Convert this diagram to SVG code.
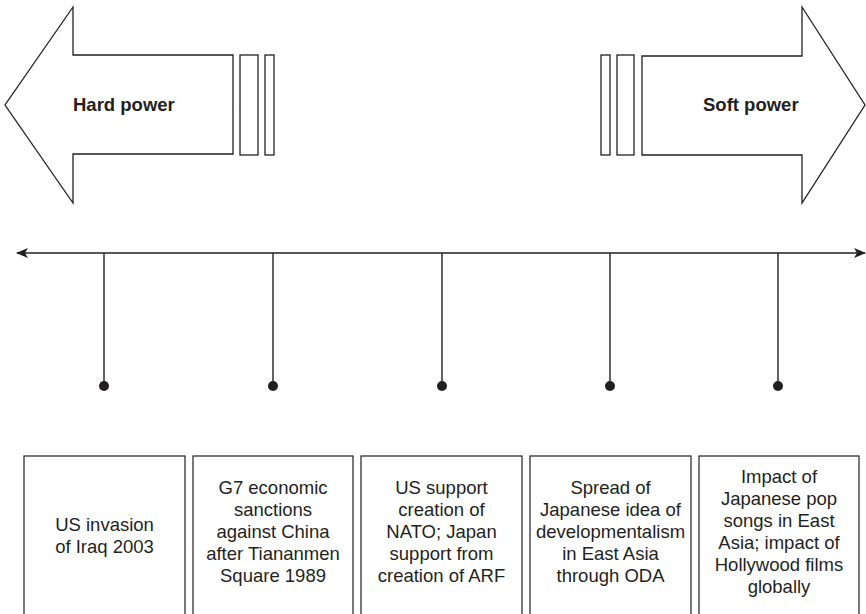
<svg xmlns="http://www.w3.org/2000/svg" width="866" height="614" viewBox="0 0 866 614">
<style>
.o{fill:#fff;stroke:#231f20;stroke-width:1.3}
.b{fill:#fff;stroke:#231f20;stroke-width:1.2}
.l{stroke:#231f20;stroke-width:1.4;fill:none}
.t{font-family:"Liberation Sans",Arial,sans-serif;font-size:18.5px;fill:#231f20;text-anchor:middle}
.h{font-family:"Liberation Sans",Arial,sans-serif;font-size:18.5px;font-weight:bold;fill:#231f20}
.d{fill:#231f20}
</style>
<defs>
<marker id="ah" viewBox="0 0 12 10" refX="11" refY="5" markerWidth="12" markerHeight="10" markerUnits="userSpaceOnUse" orient="auto-start-reverse">
<path d="M0,0 L12,5 L0,10 L3,5 Z" fill="#231f20"/>
</marker>
</defs>
<g id="hard-power">
<polygon class="o" points="73,7 5,105 73,203 73,154 233,154 233,55 73,55"/>
<rect class="o" x="240" y="55" width="18" height="100"/>
<rect class="o" x="265" y="55" width="9" height="100"/>
<text class="h" x="73" y="111">Hard power</text>
</g>
<g id="soft-power">
<polygon class="o" points="802,7 865,105 802,203 802,155 642,155 642,56 802,56"/>
<rect class="o" x="601" y="55" width="9" height="100"/>
<rect class="o" x="617" y="55" width="17" height="100"/>
<text class="h" x="703" y="111">Soft power</text>
</g>
<g id="connectors">
<line class="l" x1="17" y1="253" x2="865" y2="253" marker-start="url(#ah)" marker-end="url(#ah)"/>
<line class="l" x1="104" y1="253" x2="104" y2="386"/>
<line class="l" x1="273" y1="253" x2="273" y2="386"/>
<line class="l" x1="442" y1="253" x2="442" y2="386"/>
<line class="l" x1="610" y1="253" x2="610" y2="386"/>
<line class="l" x1="778" y1="253" x2="778" y2="386"/>
<circle class="d" cx="104" cy="386" r="5"/>
<circle class="d" cx="273" cy="386" r="5"/>
<circle class="d" cx="442" cy="386" r="5"/>
<circle class="d" cx="610" cy="386" r="5"/>
<circle class="d" cx="778" cy="386" r="5"/>
</g>
<g id="box1">
<rect class="b" x="24" y="456" width="161" height="170"/>
<text class="t" x="104.5" y="531">US invasion</text>
<text class="t" x="104.5" y="553">of Iraq 2003</text>
</g>
<g id="box2">
<rect class="b" x="193" y="456" width="160" height="170"/>
<text class="t" x="273" y="494">G7 economic</text>
<text class="t" x="273" y="516">sanctions</text>
<text class="t" x="273" y="538">against China</text>
<text class="t" x="273" y="560">after Tiananmen</text>
<text class="t" x="273" y="582">Square 1989</text>
</g>
<g id="box3">
<rect class="b" x="361" y="456" width="161" height="170"/>
<text class="t" x="441.5" y="494">US support</text>
<text class="t" x="441.5" y="516">creation of</text>
<text class="t" x="441.5" y="538">NATO; Japan</text>
<text class="t" x="441.5" y="560">support from</text>
<text class="t" x="441.5" y="582">creation of ARF</text>
</g>
<g id="box4">
<rect class="b" x="530" y="456" width="161" height="170"/>
<text class="t" x="610.5" y="494">Spread of</text>
<text class="t" x="610.5" y="516">Japanese idea of</text>
<text class="t" x="610.5" y="538">developmentalism</text>
<text class="t" x="610.5" y="560">in East Asia</text>
<text class="t" x="610.5" y="582">through ODA</text>
</g>
<g id="box5">
<rect class="b" x="699" y="456" width="160" height="170"/>
<text class="t" x="779" y="483">Impact of</text>
<text class="t" x="779" y="505">Japanese pop</text>
<text class="t" x="779" y="527">songs in East</text>
<text class="t" x="779" y="549">Asia; impact of</text>
<text class="t" x="779" y="571">Hollywood films</text>
<text class="t" x="779" y="593">globally</text>
</g>
</svg>
